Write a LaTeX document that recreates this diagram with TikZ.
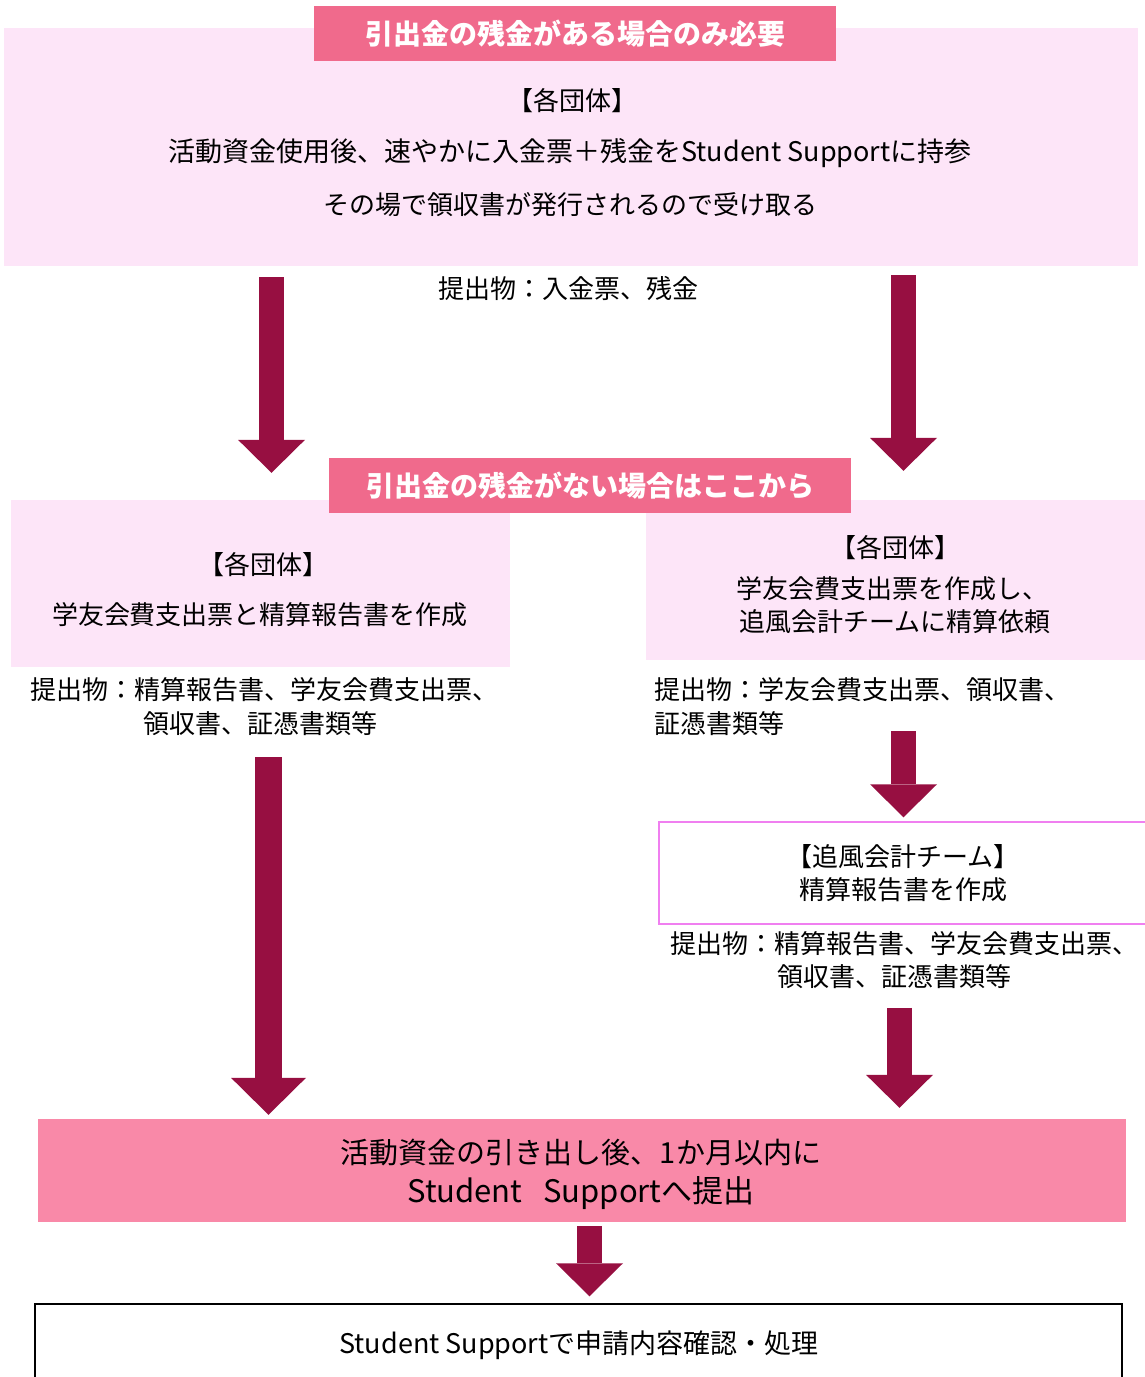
\documentclass[tikz,border=0pt]{standalone}
\usepackage{fontspec}
\setmainfont{Noto Sans CJK JP}
\usetikzlibrary{arrows.meta}
\definecolor{lpink}{HTML}{FDE5F8}
\definecolor{hpink}{HTML}{F06A8C}
\definecolor{bpink}{HTML}{F989A8}
\definecolor{arrc}{HTML}{970F41}
\definecolor{vbord}{HTML}{F07FF0}
\tikzset{
  lightbox/.style={fill=lpink, draw=none, inner sep=0pt},
  hdr/.style={fill=hpink, text=white, inner sep=0pt, font=\fontsize{28}{30}\selectfont\bfseries},
  txt/.style={inner sep=0pt, font=\fontsize{26}{30}\selectfont},
  midtxt/.style={inner sep=0pt, font=\fontsize{27}{30}\selectfont},
  bigtxt/.style={inner sep=0pt, font=\fontsize{29}{32}\selectfont},
  blk/.style={draw=arrc, line width=25pt, -{Triangle[length=33pt,width=67pt,line width=0pt,fill=arrc]}},
  blkL/.style={draw=arrc, line width=27pt, -{Triangle[length=37pt,width=75pt,line width=0pt,fill=arrc]}},
}
\begin{document}
\begin{tikzpicture}[x=1pt,y=-1pt]
\useasboundingbox (0,0) rectangle (1145,1377);
% top section
\node[lightbox, minimum width=1134pt, minimum height=238pt] (top) at (571,147) {};
\node[hdr, minimum width=522pt, minimum height=55pt] (h1) at (575,33.5) {引出金の残金がある場合のみ必要};
\node[txt] (t1) at (572,101) {【各団体】};
\node[midtxt] (t2) at (570,153) {活動資金使用後、速やかに入金票＋残金をStudent Supportに持参};
\node[txt] (t3) at (570,205) {その場で領収書が発行されるので受け取る};
\node[txt] (s1) at (568,288) {提出物：入金票、残金};
% middle section
\node[lightbox, minimum width=499pt, minimum height=167pt] (lbox) at (260.5,583.5) {};
\node[lightbox, minimum width=499pt, minimum height=160pt] (rbox) at (895.5,580) {};
\node[hdr, minimum width=522pt, minimum height=55pt] (h2) at (590,485.5) {引出金の残金がない場合はここから};
\node[txt] (l1) at (263,565) {【各団体】};
\node[txt] (l2) at (260,615) {学友会費支出票と精算報告書を作成};
\node[txt] (r1) at (895,548) {【各団体】};
\node[txt] (r2) at (892,589) {学友会費支出票を作成し、};
\node[txt] (r3) at (895,622) {追風会計チームに精算依頼};
\node[txt, anchor=west] (ls1) at (30,690) {提出物：精算報告書、学友会費支出票、};
\node[txt, anchor=west] (ls2) at (143,724) {領収書、証憑書類等};
\node[txt, anchor=west] (rs1) at (654,690) {提出物：学友会費支出票、領収書、};
\node[txt, anchor=west] (rs2) at (654,724) {証憑書類等};
% accounting team box
\node[draw=vbord, line width=1.5pt, fill=white, minimum width=500pt, minimum height=102pt, inner sep=0pt] (rbox2) at (909,873) {};
\node[txt] (k1) at (903,857) {【追風会計チーム】};
\node[txt] (k2) at (903,890) {精算報告書を作成};
\node[txt, anchor=west] (ks1) at (670,944) {提出物：精算報告書、学友会費支出票、};
\node[txt, anchor=west] (ks2) at (777,977) {領収書、証憑書類等};
% bottom
\node[fill=bpink, minimum width=1088pt, minimum height=103pt, inner sep=0pt] (bbox) at (582,1170.5) {};
\node[bigtxt] (b1) at (581,1153) {活動資金の引き出し後、1か月以内に};
\node[inner sep=0pt, font=\fontsize{31}{34}\selectfont] (b2) at (581,1193) {Student\ \ \ Supportへ提出};
\node[draw=black, line width=1.5pt, minimum width=1087pt, minimum height=92pt, inner sep=0pt] (last) at (578.5,1350) {};
\node[midtxt] (e1) at (579,1345) {Student Supportで申請内容確認・処理};
% arrows
\coordinate (xa) at (271.5,0);
\coordinate (xb) at (903.5,0);
\coordinate (xc) at (268.5,0);
\coordinate (xd) at (899.5,0);
\coordinate (xe) at (589.5,0);
\draw[blk, shorten <=11pt, shorten >=27pt] (top.south -| xa) -- (lbox.north -| xa);
\draw[blk, shorten <=9pt, shorten >=29pt] (top.south -| xb) -- (rbox.north -| xb);
\draw[blk, shorten <=71pt, shorten >=4pt] (rbox.south -| xb) -- (rbox2.north -| xb);
\draw[blkL, shorten <=90pt, shorten >=4pt] (lbox.south -| xc) -- (bbox.north -| xc);
\draw[blk, shorten <=83pt, shorten >=11pt] (rbox2.south -| xd) -- (bbox.north -| xd);
\draw[blk, shorten <=4pt, shorten >=7pt] (bbox.south -| xe) -- (last.north -| xe);
\end{tikzpicture}
\end{document}
